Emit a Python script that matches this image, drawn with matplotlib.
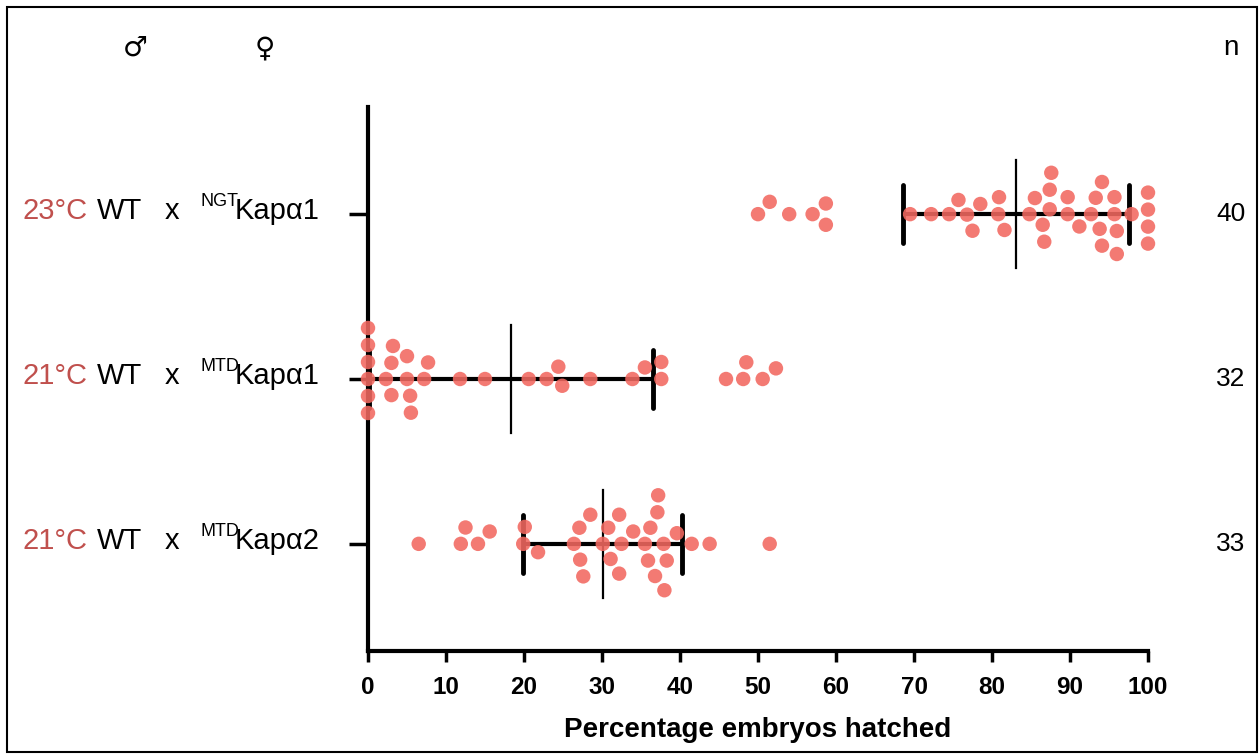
import numpy as np
import matplotlib
matplotlib.use('Agg')
import matplotlib.pyplot as plt
from matplotlib import font_manager
from matplotlib.patches import Rectangle
from matplotlib.transforms import blended_transform_factory

# crosses (male WT x female allele), temperature, n
temps = ['23°C', '21°C', '21°C']
alleles = ['NGT', 'MTD', 'MTD']
genes = ['Kapα1', 'Kapα1', 'Kapα2']
n_labels = ['40', '32', '33']

# percentage hatched per female
hatch_ngt_kap1 = [50.0, 51.5, 54.0, 57.0, 58.7, 58.7,
                  69.5, 72.2, 74.5, 76.8, 78.5, 81.6, 84.8, 86.7, 89.7, 93.8, 95.7, 97.9,
                  77.5, 80.9, 85.5, 87.4, 91.2, 93.3, 95.7, 87.4, 94.1,
                  75.7, 80.8, 86.5, 89.7, 92.7, 96.0, 87.6, 94.1, 96.0,
                  100, 100, 100, 100]
hatch_mtd_kap1 = [0, 0, 0, 0, 0, 0, 2.3, 3.2, 3.0, 3.0, 5.0, 5.4, 5.0, 5.5, 7.2, 7.7,
                  11.8, 15.0, 20.6, 22.9, 24.9, 24.4, 28.5, 33.9, 35.5, 37.6, 37.6,
                  45.9, 48.5, 48.1, 50.6, 52.3]
hatch_mtd_kap2 = [6.5, 11.9, 14.1, 12.5, 15.6, 19.9, 20.1, 21.8,
                  27.6, 27.2, 27.1, 26.4, 28.5, 30.1, 30.8, 31.1, 32.2, 32.5, 32.2, 34.0,
                  35.5, 37.2, 38.0, 35.9, 37.9, 36.2, 38.3, 37.1, 36.8,
                  39.6, 41.5, 43.8, 51.5]
groups = [hatch_ngt_kap1, hatch_mtd_kap1, hatch_mtd_kap2]

# mean and SD as drawn
means = [83.1, 18.3, 30.1]
sds = [14.5, 18.2, 10.2]

dot_color = '#F26860'
temp_color = '#C0504D'

names = {f.name for f in font_manager.fontManager.ttflist}
narrow = 'Liberation Sans Narrow' if 'Liberation Sans Narrow' in names else 'Liberation Sans'
plt.rcParams['font.family'] = ['Liberation Sans', 'DejaVu Sans']


def swarm_offsets(values, px_x, diam):
    # simple beeswarm in pixel space, returns vertical offsets (px, up positive)
    xs = np.asarray(values, dtype=float) * px_x
    order = np.argsort(xs, kind='stable')
    placed = []
    offs = np.zeros(len(xs))
    for i in order:
        x = xs[i]
        near = [(px, py) for px, py in placed if abs(px - x) < diam]
        cands = [0.0]
        for px, py in near:
            dy = np.sqrt(diam ** 2 - (px - x) ** 2)
            cands += [py + dy, py - dy]
        cands.sort(key=lambda c: (round(abs(c), 6), -c))
        for c in cands:
            if all((px - x) ** 2 + (py - c) ** 2 >= diam ** 2 - 1e-6 for px, py in near):
                offs[i] = c
                break
        placed.append((x, offs[i]))
    return offs


W, H = 1260, 754
fig = plt.figure(figsize=(W / 100, H / 100), dpi=100)
ax = fig.add_axes([368 / W, 1 - 651 / H, 780 / W, (651 - 107) / H])
ax.set_xlim(0, 100)
ax.set_ylim(2.65, -0.65)

px_x = 780 / 100
px_y = (651 - 107) / 3.3

for row, vals in enumerate(groups):
    m, s = means[row], sds[row]
    lo = max(m - s, 0)
    hi = min(m + s, 100)
    ax.plot([lo, hi], [row, row], color='black', lw=3, solid_capstyle='butt', zorder=2)
    for cap in (m - s, m + s):
        if 0 < cap <= 100:
            ax.plot([cap, cap], [row - 29 / px_y, row + 29 / px_y], color='black', lw=3.5,
                    solid_capstyle='round', zorder=2)
    ax.plot([m, m], [row - 54 / px_y, row + 54 / px_y], color='black', lw=1.6, zorder=2)
    offs = swarm_offsets(vals, px_x, 17)
    ax.scatter(vals, row - offs / px_y, s=108, color=dot_color, alpha=0.88,
               edgecolors='none', zorder=3, clip_on=False)

for side in ('top', 'right'):
    ax.spines[side].set_visible(False)
for side in ('left', 'bottom'):
    ax.spines[side].set_linewidth(3)
ax.set_yticks([0, 1, 2])
ax.set_yticklabels([])
ax.tick_params(axis='y', length=14, width=2.5)
ax.set_xticks(np.arange(0, 101, 10))
ax.tick_params(axis='x', length=8, width=2.5, pad=10)
for lab in ax.get_xticklabels():
    lab.set_fontfamily(narrow)
    lab.set_fontweight('bold')
    lab.set_fontsize(17.5)
ax.set_xlabel('Percentage embryos hatched', fontfamily=narrow, fontweight='bold',
              fontsize=20, labelpad=13)

# row labels on the left, n on the right
tr = blended_transform_factory(fig.transFigure, ax.transData)
for row in range(3):
    base = row + 5 / px_y
    ax.text(22 / W, base, temps[row], transform=tr, color=temp_color, fontsize=21, va='baseline')
    ax.text(97 / W, base, 'WT', transform=tr, fontsize=21, va='baseline')
    ax.text(165 / W, base, 'x', transform=tr, fontsize=21, va='baseline')
    ax.text(200 / W, base - 13 / px_y, alleles[row], transform=tr, fontsize=13, va='baseline')
    ax.text(235 / W, base, genes[row], transform=tr, fontsize=21, va='baseline')
    ax.text(1231 / W, row, n_labels[row], transform=tr, fontsize=19, ha='center', va='center')

fig.text(135 / W, 1 - 48 / H, '♂', fontsize=20, ha='center', va='center',
         family=['DejaVu Sans'])
fig.text(265 / W, 1 - 48 / H, '♀', fontsize=20, ha='center', va='center',
         family=['DejaVu Sans'])
fig.text(1231 / W, 1 - 48 / H, 'n', fontsize=20, ha='center', va='center')

fig.patches.append(Rectangle((7 / W, 2 / H), 1250 / W, 745 / H, transform=fig.transFigure,
                             fill=False, edgecolor='black', lw=1.5))

fig.savefig('out.png', dpi=100)
